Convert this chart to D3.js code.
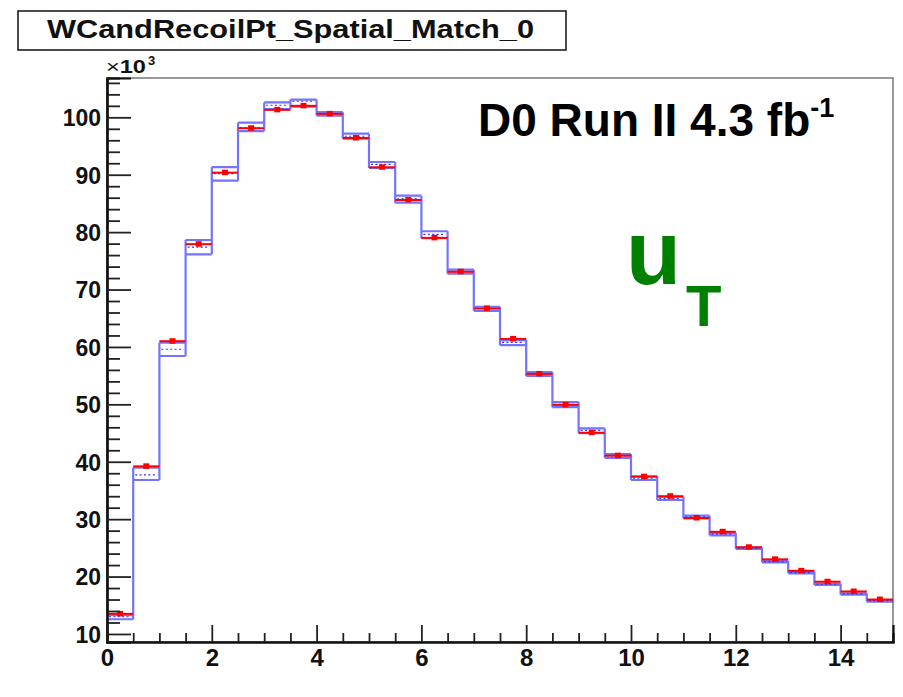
<!DOCTYPE html>
<html>
<head>
<meta charset="utf-8">
<script src="https://cdn.jsdelivr.net/npm/d3@7/dist/d3.min.js"></script>
<style>
  html, body { margin: 0; padding: 0; background: #fff; }
  svg { display: block; }
  text { font-family: "Liberation Sans", Arial, Helvetica, sans-serif; }
</style>
</head>
<body>
<svg id="chart" width="903" height="697"></svg>
<script>
// Recoil pT histogram, 30 bins of 0.5 GeV between 0 and 15 (counts in units of 10^3)
const binLow = [0, 0.5, 1, 1.5, 2, 2.5, 3, 3.5, 4, 4.5, 5, 5.5, 6, 6.5, 7,
                7.5, 8, 8.5, 9, 9.5, 10, 10.5, 11, 11.5, 12, 12.5, 13, 13.5, 14, 14.5];
const binWidth = 0.5;

// simulation band: upper edge, lower edge and central value
const mcUpper = [13.26, 38.97, 60.74, 78.63, 91.34, 99.06, 102.6, 103.1, 100.9, 97.15,
                 92.22, 86.35, 80.15, 73.46, 67.0, 61.2, 55.6, 50.4, 45.8, 41.35,
                 37.47, 33.86, 30.6, 27.59, 25.05, 22.72, 20.8, 18.78, 17.09, 15.87];
const mcLower = [12.56, 36.82, 58.42, 76.13, 88.96, 97.6, 101.45, 101.85, 100.3, 96.28,
                 91.17, 85.13, 78.93, 72.76, 66.3, 60.3, 54.94, 49.5, 45.0, 40.66,
                 36.82, 33.34, 30.15, 27.19, 24.8, 22.48, 20.56, 18.54, 16.85, 15.63];
const mcCentral = [13.0, 37.7, 59.6, 77.4, 90.2, 98.2, 102.1, 102.8, 100.6, 96.7,
                   91.8, 85.8, 79.6, 73.1, 66.7, 60.8, 55.3, 50.0, 45.45, 41.0,
                   37.15, 33.6, 30.4, 27.4, 24.93, 22.6, 20.68, 18.66, 16.97, 15.75];
// data points
const dataValues = [13.5, 39.2, 61.0, 77.9, 90.36, 98.1, 101.3, 102.0, 100.6, 96.4,
                    91.3, 85.6, 79.0, 73.1, 66.7, 61.4, 55.3, 49.9, 45.06, 41.06,
                    37.4, 34.0, 30.2, 27.8, 25.1, 23.0, 21.0, 19.1, 17.4, 16.0];

const xMajorTicks = [0, 2, 4, 6, 8, 10, 12, 14];
const yMajorTicks = [10, 20, 30, 40, 50, 60, 70, 80, 90, 100];

const titleText = "WCandRecoilPt_Spatial_Match_0";
const lumiText = "D0 Run II 4.3 fb";
const lumiExp = "-1";

const svg = d3.select("#chart");
const W = 903, H = 697;
const plot = { left: 107, right: 893, top: 78, bottom: 642 };

const x = d3.scaleLinear().domain([0, 15]).range([plot.left, plot.right]);
const y = d3.scaleLinear().domain([8.6, 106.85]).range([plot.bottom, plot.top]);

svg.append("rect").attr("width", W).attr("height", H).attr("fill", "#fff");

// frame (top and right sides)
svg.append("rect")
  .attr("x", plot.left).attr("y", plot.top)
  .attr("width", plot.right - plot.left).attr("height", plot.bottom - plot.top)
  .attr("fill", "none").attr("stroke", "#555").attr("stroke-width", 1.2);

const g = svg.append("g");
svg.append("clipPath").attr("id", "plotclip").append("rect")
  .attr("x", plot.left).attr("y", plot.top)
  .attr("width", plot.right - plot.left).attr("height", plot.bottom - plot.top);
const marks = g.append("g").attr("clip-path", "url(#plotclip)");

const bins = binLow.map((lo, i) => ({
  lo, hi: lo + binWidth, up: mcUpper[i], dn: mcLower[i], mid: mcCentral[i], val: dataValues[i]
}));

// band outline: horizontal edges per bin plus vertical connectors at bin edges
let p = d3.path();
bins.forEach((b, i) => {
  p.moveTo(x(b.lo), y(b.up)); p.lineTo(x(b.hi), y(b.up));
  p.moveTo(x(b.lo), y(b.dn)); p.lineTo(x(b.hi), y(b.dn));
  const prev = bins[i - 1];
  const top = prev ? Math.max(prev.up, b.up) : b.up;
  const bot = prev ? Math.min(prev.dn, b.dn) : b.dn;
  p.moveTo(x(b.lo), y(top)); p.lineTo(x(b.lo), y(bot));
});
const last = bins[bins.length - 1];
p.moveTo(x(last.hi), y(last.up)); p.lineTo(x(last.hi), y(last.dn));
marks.append("path").attr("d", p.toString())
  .attr("fill", "none").attr("stroke", "#0000ff").attr("stroke-opacity", 0.55)
  .attr("stroke-width", 2.2);

// central value, dotted
marks.selectAll("line.mid").data(bins).join("line")
  .attr("class", "mid")
  .attr("x1", d => x(d.lo) + 2).attr("x2", d => x(d.hi) - 2)
  .attr("y1", d => y(d.mid)).attr("y2", d => y(d.mid))
  .attr("stroke", "#3333ff").attr("stroke-width", 1.2)
  .attr("stroke-dasharray", "2,2.4");

// data: horizontal bin-width bar and square marker
marks.selectAll("line.dat").data(bins).join("line")
  .attr("class", "dat")
  .attr("x1", d => x(d.lo)).attr("x2", d => x(d.hi))
  .attr("y1", d => y(d.val)).attr("y2", d => y(d.val))
  .attr("stroke", "#ff0000").attr("stroke-width", 2);
marks.selectAll("rect.dat").data(bins).join("rect")
  .attr("class", "dat")
  .attr("x", d => x(d.lo + binWidth / 2) - 3).attr("y", d => y(d.val) - 3)
  .attr("width", 6).attr("height", 5.5)
  .attr("fill", "#ff0000");

// axes
const yMinor = d3.range(10, 107, 2).filter(v => !yMajorTicks.includes(v));
const xMinor = d3.range(0.5, 15, 0.5).filter(v => !xMajorTicks.includes(v));

const yAxisMinor = svg.append("g").attr("transform", `translate(${plot.left},0)`)
  .call(d3.axisLeft(y).tickValues(yMinor).tickSize(-13).tickFormat(""));
const yAxis = svg.append("g").attr("transform", `translate(${plot.left},0)`)
  .call(d3.axisLeft(y).tickValues(yMajorTicks).tickSize(-24).tickPadding(6).tickFormat(d3.format("d")));
const xAxisMinor = svg.append("g").attr("transform", `translate(0,${plot.bottom})`)
  .call(d3.axisBottom(x).tickValues(xMinor).tickSize(-9).tickFormat(""));
const xAxis = svg.append("g").attr("transform", `translate(0,${plot.bottom})`)
  .call(d3.axisBottom(x).tickValues(xMajorTicks).tickSize(-17).tickPadding(8).tickFormat(d3.format("d")));

[yAxisMinor, yAxis, xAxisMinor, xAxis].forEach(a => {
  a.select(".domain").attr("stroke", "#111").attr("stroke-width", 2.2);
  a.selectAll(".tick line").attr("stroke", "#222").attr("stroke-width", 1.8);
});
yAxis.selectAll(".tick text")
  .attr("font-size", 23).attr("font-weight", "bold").attr("fill", "#111")
  .attr("dy", "0.36em");
xAxis.selectAll(".tick text")
  .attr("font-size", 24).attr("font-weight", "bold").attr("fill", "#111")
  .attr("y", 7).attr("dy", "0.71em");

// x10^3 multiplier
const mult = svg.append("text").attr("x", 106).attr("y", 73)
  .attr("font-size", 18).attr("font-weight", "bold").attr("fill", "#111")
  .attr("textLength", 40).attr("lengthAdjust", "spacingAndGlyphs");
mult.append("tspan").attr("font-weight", "normal").text("\u00d7");
mult.append("tspan").text("10");
svg.append("text").attr("x", 148).attr("y", 65)
  .attr("font-size", 13).attr("font-weight", "bold").attr("fill", "#111")
  .text("3");

// title box
svg.append("rect").attr("x", 18).attr("y", 11).attr("width", 548).attr("height", 39)
  .attr("fill", "#fff").attr("stroke", "#111").attr("stroke-width", 1.5);
svg.append("text").attr("x", 47).attr("y", 37.5)
  .attr("font-size", 26.5).attr("font-weight", "bold").attr("fill", "#111")
  .attr("textLength", 487).attr("lengthAdjust", "spacingAndGlyphs")
  .text(titleText);

// luminosity label
const lumi = svg.append("text").attr("x", 478).attr("y", 136)
  .attr("font-size", 46).attr("font-weight", "bold").attr("fill", "#000");
lumi.append("tspan").text(lumiText);
lumi.append("tspan").attr("dy", -19).attr("font-size", 27).text(lumiExp);

// variable label u_T
const ut = svg.append("text").attr("x", 626).attr("y", 284)
  .attr("font-weight", "bold").attr("fill", "#008000");
ut.append("tspan").attr("font-size", 90).text("u");
ut.append("tspan").attr("font-size", 58).attr("dx", 5).attr("dy", 42).text("T");
</script>
</body>
</html>
